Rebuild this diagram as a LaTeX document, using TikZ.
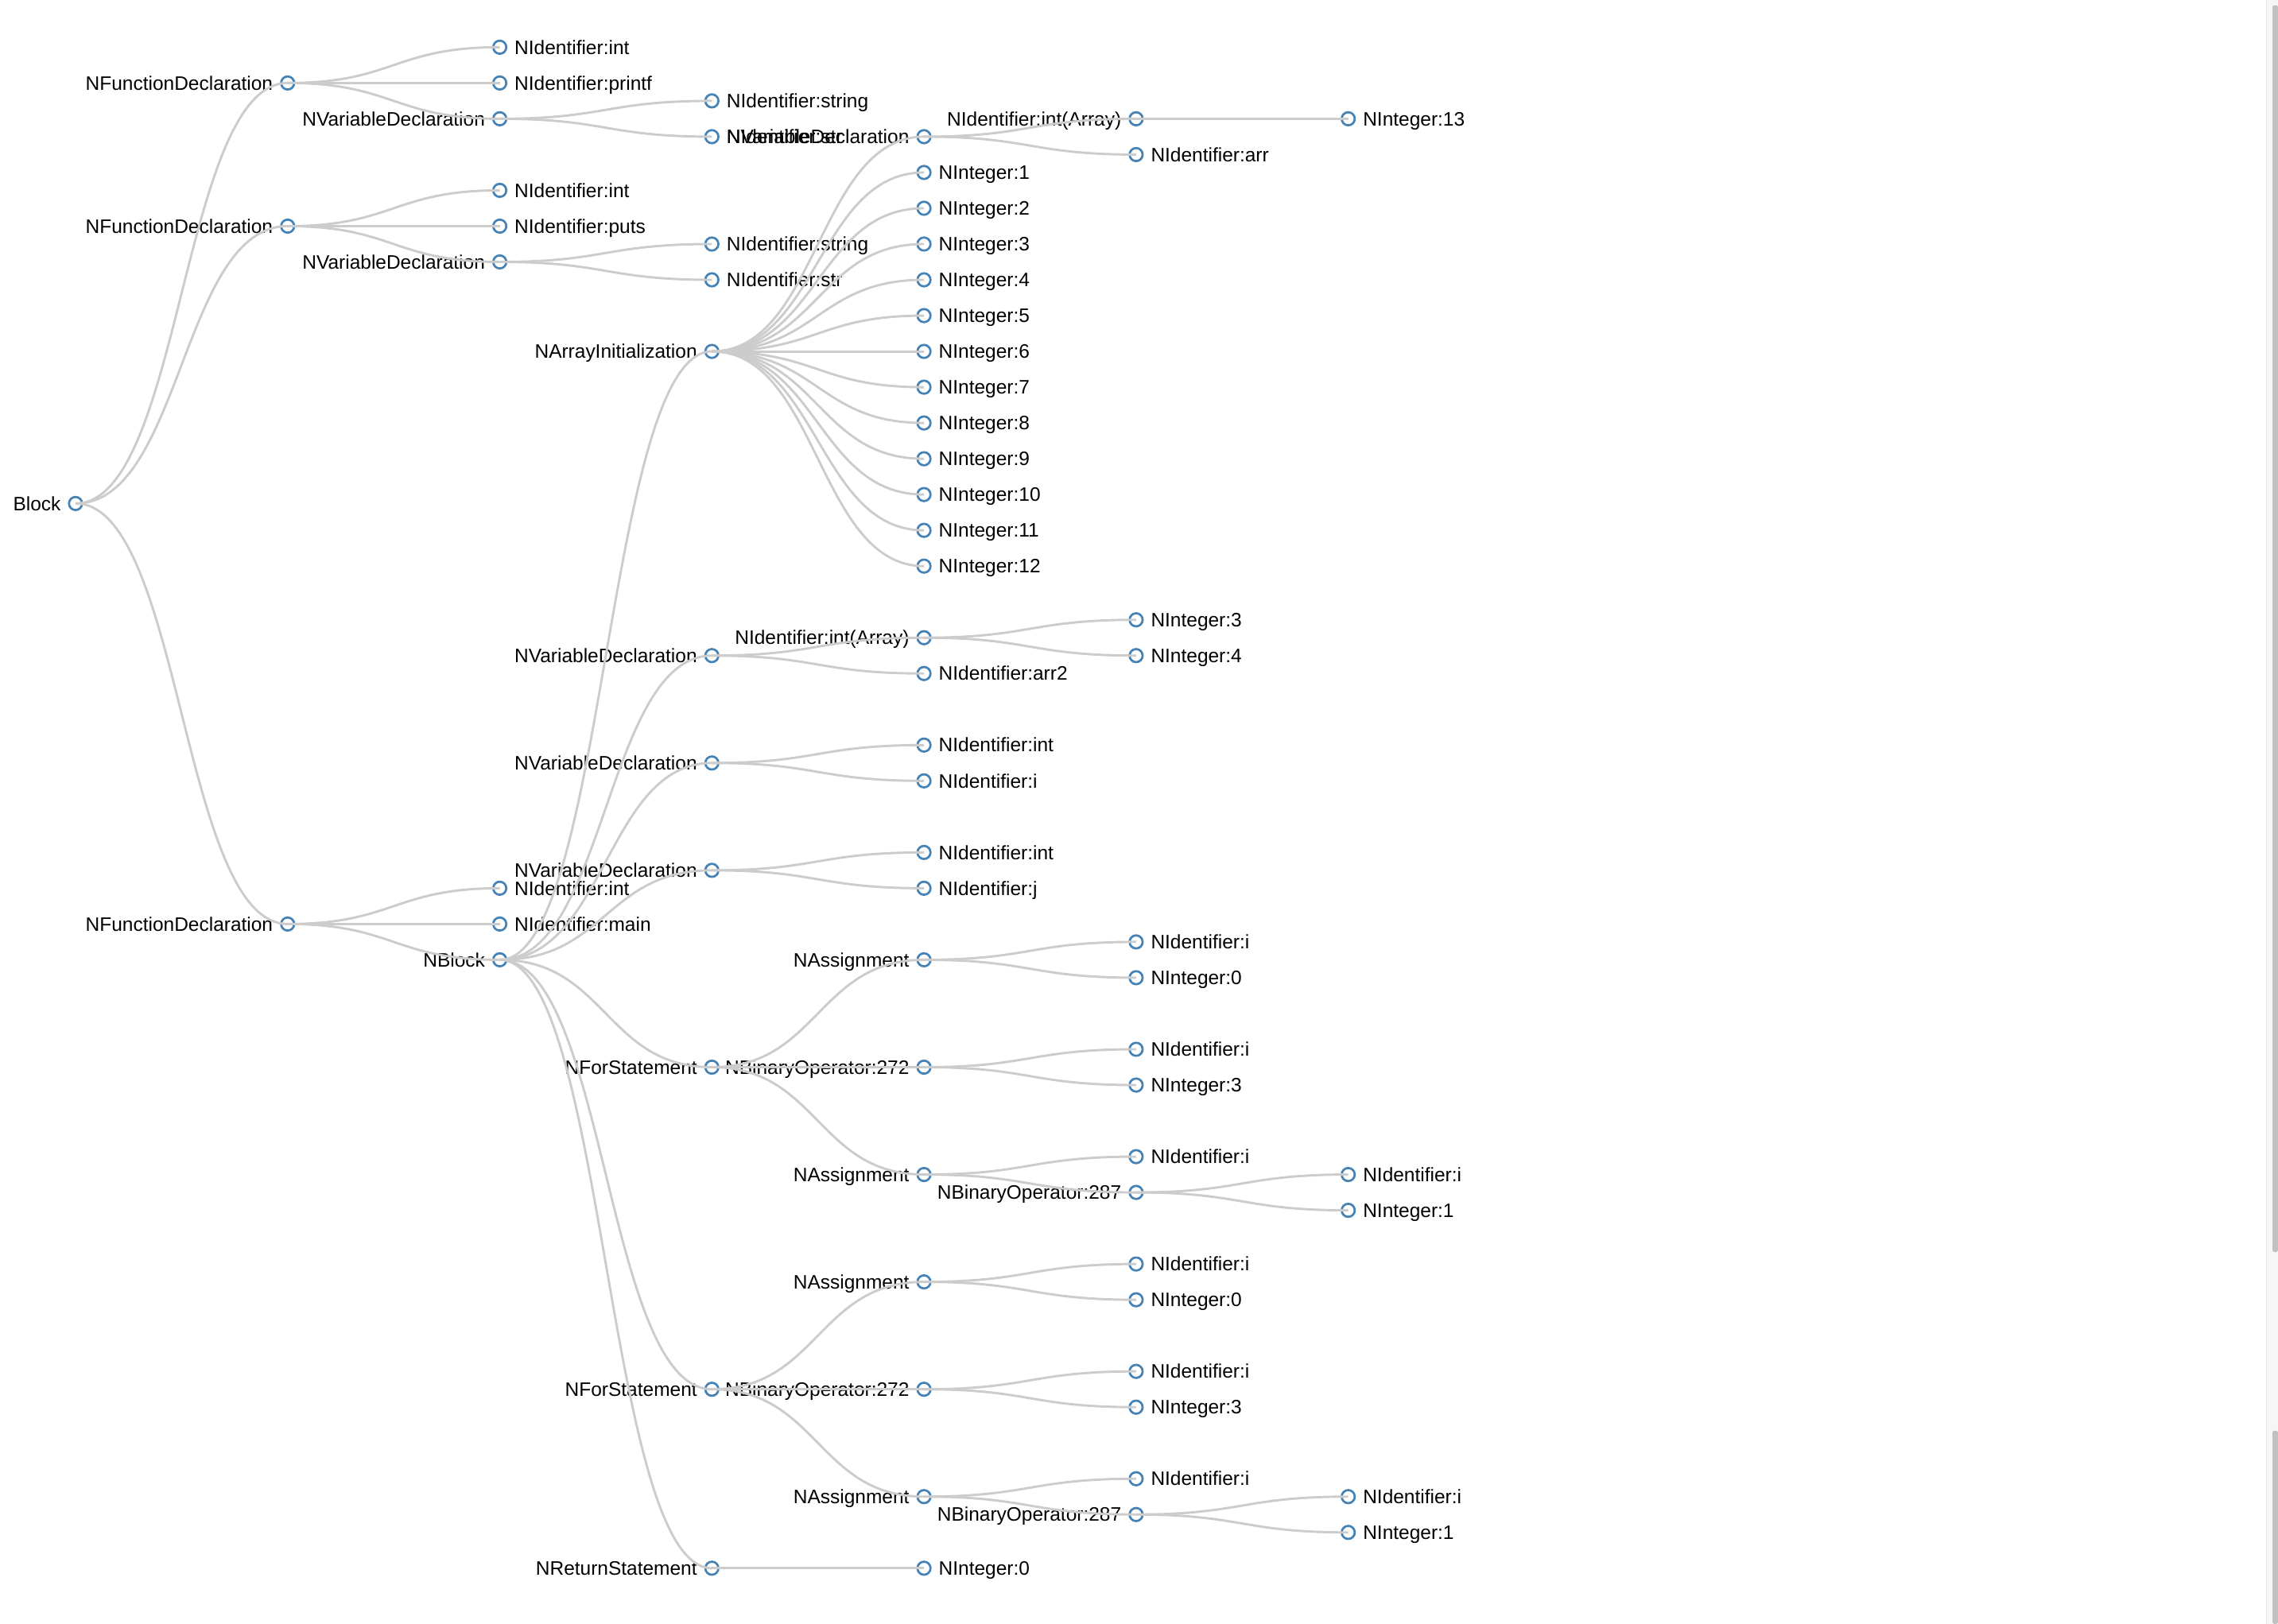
\documentclass[tikz,border=0pt]{standalone}
\usepackage{fontspec}
\setmainfont{Liberation Sans}
\usepackage{tikz}
\usetikzlibrary{positioning,calc}

\definecolor{steel}{HTML}{4682B4}
\definecolor{linkgray}{HTML}{CCCCCC}
\definecolor{thumbgray}{HTML}{C1C1C1}
\definecolor{trackgray}{HTML}{F6F6F6}
\definecolor{trackline}{HTML}{E4E4E4}

\tikzset{
	dot/.style={circle,draw=steel,line width=1.5pt,inner sep=0pt,minimum size=9pt},
	lbl/.style={inner sep=0pt,text height=12pt,text depth=2.5pt,text=black,font=\fontsize{13.4}{16}\selectfont},
	leaf/.style={dot,label={[lbl]0:{#1}}},
	fork/.style={dot,label={[lbl]180:{#1}}},
	link/.style={draw=linkgray,line width=1.6pt},
	diag/.style={to path={.. controls +(0.5,0) and +(-0.5,0) .. (\tikztotarget)}},
}

\begin{document}
\begin{tikzpicture}[x=1pt,y=-1pt,label distance=4.75pt]
		\useasboundingbox (0,0) rectangle (1568,1118);
		
		% scroll bar
		\fill[trackgray] (1559.8,0) rectangle (1568,1118);
		\draw[trackline,line width=0.6pt] (1559.8,0) -- (1559.8,1118);
		\fill[thumbgray,rounded corners=1pt] (1564.2,3.6) rectangle (1568,862);
		\fill[thumbgray,rounded corners=1pt] (1564.2,985) rectangle (1568,1118);
		
		\begin{scope}
		\clip (9,0) rectangle (1540,1118);
		\begin{scope}[shift={(52,32.5)},x=146pt,y=-24.64pt]
		\node[fork=NBlock] (root) at (0,12.75) {};
		
		\node[fork=NFunctionDeclaration] (fa) at (1,1) {};
		\node[leaf=NIdentifier:int] (fa1) at (2,0) {};
		\node[leaf=NIdentifier:printf] (fa2) at (2,1) {};
		\node[fork=NVariableDeclaration] (fa3) at (2,2) {};
		\node[leaf=NIdentifier:string] (fa31) at (3,1.5) {};
		\node[leaf=NIdentifier:str] (fa32) at (3,2.5) {};
		
		\node[fork=NFunctionDeclaration] (fb) at (1,5) {};
		\node[leaf=NIdentifier:int] (fb1) at (2,4) {};
		\node[leaf=NIdentifier:puts] (fb2) at (2,5) {};
		\node[fork=NVariableDeclaration] (fb3) at (2,6) {};
		\node[leaf=NIdentifier:string] (fb31) at (3,5.5) {};
		\node[leaf=NIdentifier:str] (fb32) at (3,6.5) {};
		
		\node[fork=NFunctionDeclaration] (fc) at (1,24.5) {};
		\node[leaf=NIdentifier:int] (fc1) at (2,23.5) {};
		\node[leaf=NIdentifier:main] (fc2) at (2,24.5) {};
		\node[fork=NBlock] (blk) at (2,25.5) {};
		
		\node[fork=NArrayInitialization] (ai) at (3,8.5) {};
		\node[fork=NVariableDeclaration] (av) at (4,2.5) {};
		\node[fork={NIdentifier:int(Array)}] (av1) at (5,2) {};
		\node[leaf=NInteger:13] (av11) at (6,2) {};
		\node[leaf=NIdentifier:arr] (av2) at (5,3) {};
		\node[leaf=NInteger:1] (ai1) at (4,3.5) {};
		\node[leaf=NInteger:2] (ai2) at (4,4.5) {};
		\node[leaf=NInteger:3] (ai3) at (4,5.5) {};
		\node[leaf=NInteger:4] (ai4) at (4,6.5) {};
		\node[leaf=NInteger:5] (ai5) at (4,7.5) {};
		\node[leaf=NInteger:6] (ai6) at (4,8.5) {};
		\node[leaf=NInteger:7] (ai7) at (4,9.5) {};
		\node[leaf=NInteger:8] (ai8) at (4,10.5) {};
		\node[leaf=NInteger:9] (ai9) at (4,11.5) {};
		\node[leaf=NInteger:10] (ai10) at (4,12.5) {};
		\node[leaf=NInteger:11] (ai11) at (4,13.5) {};
		\node[leaf=NInteger:12] (ai12) at (4,14.5) {};
		
		\node[fork=NVariableDeclaration] (va) at (3,17) {};
		\node[fork={NIdentifier:int(Array)}] (va1) at (4,16.5) {};
		\node[leaf=NInteger:3] (va11) at (5,16) {};
		\node[leaf=NInteger:4] (va12) at (5,17) {};
		\node[leaf=NIdentifier:arr2] (va2) at (4,17.5) {};
		
		\node[fork=NVariableDeclaration] (vb) at (3,20) {};
		\node[leaf=NIdentifier:int] (vb1) at (4,19.5) {};
		\node[leaf=NIdentifier:i] (vb2) at (4,20.5) {};
		
		\node[fork=NVariableDeclaration] (vc) at (3,23) {};
		\node[leaf=NIdentifier:int] (vc1) at (4,22.5) {};
		\node[leaf=NIdentifier:j] (vc2) at (4,23.5) {};
		
		\node[fork=NForStatement] (fora) at (3,28.5) {};
		\node[fork=NAssignment] (fora1) at (4,25.5) {};
		\node[leaf=NIdentifier:i] (fora11) at (5,25) {};
		\node[leaf=NInteger:0] (fora12) at (5,26) {};
		\node[fork=NBinaryOperator:272] (fora2) at (4,28.5) {};
		\node[leaf=NIdentifier:i] (fora21) at (5,28) {};
		\node[leaf=NInteger:3] (fora22) at (5,29) {};
		\node[fork=NAssignment] (fora3) at (4,31.5) {};
		\node[leaf=NIdentifier:i] (fora31) at (5,31) {};
		\node[fork=NBinaryOperator:287] (fora32) at (5,32) {};
		\node[leaf=NIdentifier:i] (fora321) at (6,31.5) {};
		\node[leaf=NInteger:1] (fora322) at (6,32.5) {};
		
		\node[fork=NForStatement] (forb) at (3,37.5) {};
		\node[fork=NAssignment] (forb1) at (4,34.5) {};
		\node[leaf=NIdentifier:i] (forb11) at (5,34) {};
		\node[leaf=NInteger:0] (forb12) at (5,35) {};
		\node[fork=NBinaryOperator:272] (forb2) at (4,37.5) {};
		\node[leaf=NIdentifier:i] (forb21) at (5,37) {};
		\node[leaf=NInteger:3] (forb22) at (5,38) {};
		\node[fork=NAssignment] (forb3) at (4,40.5) {};
		\node[leaf=NIdentifier:i] (forb31) at (5,40) {};
		\node[fork=NBinaryOperator:287] (forb32) at (5,41) {};
		\node[leaf=NIdentifier:i] (forb321) at (6,40.5) {};
		\node[leaf=NInteger:1] (forb322) at (6,41.5) {};
		
		\node[fork=NReturnStatement] (ret) at (3,42.5) {};
		\node[leaf=NInteger:0] (ret1) at (4,42.5) {};
		
		% links
		\draw[link] (root.center) to[diag] (fa.center);
		\draw[link] (root.center) to[diag] (fb.center);
		\draw[link] (root.center) to[diag] (fc.center);
		
		\draw[link] (fa.center) to[diag] (fa1.center);
		\draw[link] (fa.center) to[diag] (fa2.center);
		\draw[link] (fa.center) to[diag] (fa3.center);
		\draw[link] (fa3.center) to[diag] (fa31.center);
		\draw[link] (fa3.center) to[diag] (fa32.center);
		
		\draw[link] (fb.center) to[diag] (fb1.center);
		\draw[link] (fb.center) to[diag] (fb2.center);
		\draw[link] (fb.center) to[diag] (fb3.center);
		\draw[link] (fb3.center) to[diag] (fb31.center);
		\draw[link] (fb3.center) to[diag] (fb32.center);
		
		\draw[link] (fc.center) to[diag] (fc1.center);
		\draw[link] (fc.center) to[diag] (fc2.center);
		\draw[link] (fc.center) to[diag] (blk.center);
		
		\draw[link] (blk.center) to[diag] (ai.center);
		\draw[link] (blk.center) to[diag] (va.center);
		\draw[link] (blk.center) to[diag] (vb.center);
		\draw[link] (blk.center) to[diag] (vc.center);
		\draw[link] (blk.center) to[diag] (fora.center);
		\draw[link] (blk.center) to[diag] (forb.center);
		\draw[link] (blk.center) to[diag] (ret.center);
		
		\draw[link] (ai.center) to[diag] (av.center);
		\draw[link] (av.center) to[diag] (av1.center);
		\draw[link] (av.center) to[diag] (av2.center);
		\draw[link] (av1.center) to[diag] (av11.center);
		\draw[link] (ai.center) to[diag] (ai1.center);
		\draw[link] (ai.center) to[diag] (ai2.center);
		\draw[link] (ai.center) to[diag] (ai3.center);
		\draw[link] (ai.center) to[diag] (ai4.center);
		\draw[link] (ai.center) to[diag] (ai5.center);
		\draw[link] (ai.center) to[diag] (ai6.center);
		\draw[link] (ai.center) to[diag] (ai7.center);
		\draw[link] (ai.center) to[diag] (ai8.center);
		\draw[link] (ai.center) to[diag] (ai9.center);
		\draw[link] (ai.center) to[diag] (ai10.center);
		\draw[link] (ai.center) to[diag] (ai11.center);
		\draw[link] (ai.center) to[diag] (ai12.center);
		
		\draw[link] (va.center) to[diag] (va1.center);
		\draw[link] (va.center) to[diag] (va2.center);
		\draw[link] (va1.center) to[diag] (va11.center);
		\draw[link] (va1.center) to[diag] (va12.center);
		
		\draw[link] (vb.center) to[diag] (vb1.center);
		\draw[link] (vb.center) to[diag] (vb2.center);
		\draw[link] (vc.center) to[diag] (vc1.center);
		\draw[link] (vc.center) to[diag] (vc2.center);
		
		\draw[link] (fora.center) to[diag] (fora1.center);
		\draw[link] (fora.center) to[diag] (fora2.center);
		\draw[link] (fora.center) to[diag] (fora3.center);
		\draw[link] (fora1.center) to[diag] (fora11.center);
		\draw[link] (fora1.center) to[diag] (fora12.center);
		\draw[link] (fora2.center) to[diag] (fora21.center);
		\draw[link] (fora2.center) to[diag] (fora22.center);
		\draw[link] (fora3.center) to[diag] (fora31.center);
		\draw[link] (fora3.center) to[diag] (fora32.center);
		\draw[link] (fora32.center) to[diag] (fora321.center);
		\draw[link] (fora32.center) to[diag] (fora322.center);
		
		\draw[link] (forb.center) to[diag] (forb1.center);
		\draw[link] (forb.center) to[diag] (forb2.center);
		\draw[link] (forb.center) to[diag] (forb3.center);
		\draw[link] (forb1.center) to[diag] (forb11.center);
		\draw[link] (forb1.center) to[diag] (forb12.center);
		\draw[link] (forb2.center) to[diag] (forb21.center);
		\draw[link] (forb2.center) to[diag] (forb22.center);
		\draw[link] (forb3.center) to[diag] (forb31.center);
		\draw[link] (forb3.center) to[diag] (forb32.center);
		\draw[link] (forb32.center) to[diag] (forb321.center);
		\draw[link] (forb32.center) to[diag] (forb322.center);
		
		\draw[link] (ret.center) to[diag] (ret1.center);
		\end{scope}
		\end{scope}
	\end{tikzpicture}
\end{document}
